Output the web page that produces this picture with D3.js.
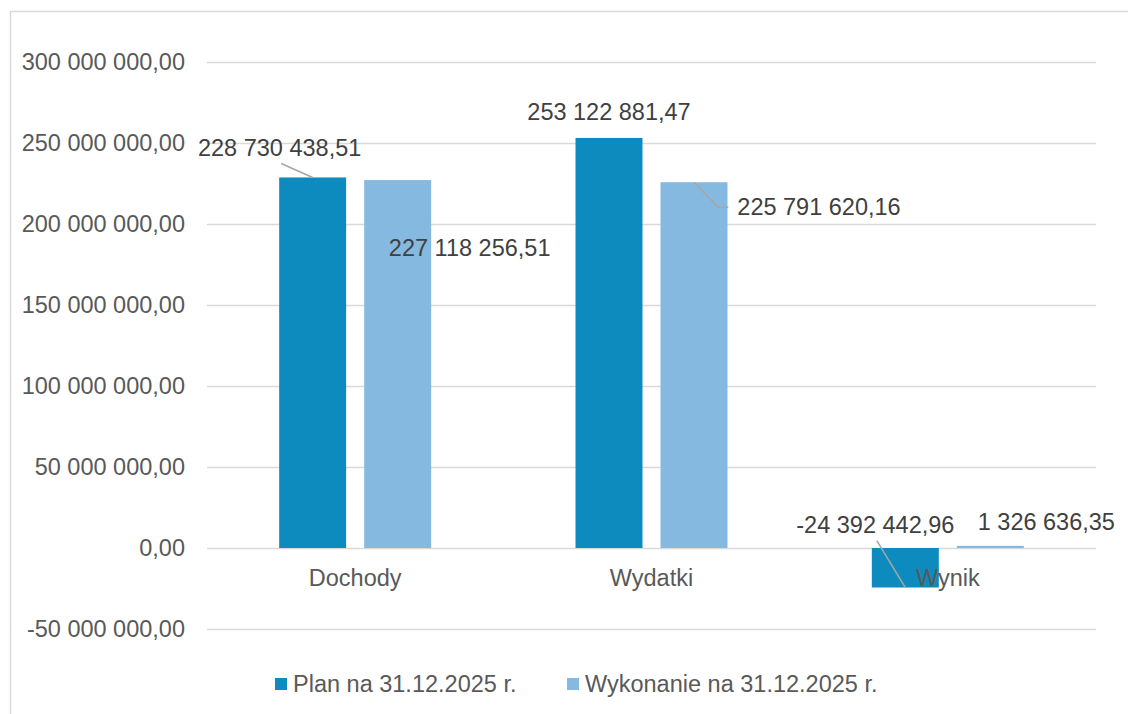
<!DOCTYPE html>
<html>
<head>
<meta charset="utf-8">
<script src="https://cdn.jsdelivr.net/npm/d3@7"></script>
<style>
  body { margin: 0; background: #fff; }
  svg { display: block; font-family: "Liberation Sans", Arial, sans-serif; }
</style>
</head>
<body>
<svg width="1128" height="714"></svg>
<script>
const categories = ['Dochody', 'Wydatki', 'Wynik'];
const seriesNames = ['Plan na 31.12.2025 r.', 'Wykonanie na 31.12.2025 r.'];
const planValues = [228730438.51, 253122881.47, -24392442.96];
const wykonanieValues = [227118256.51, 225791620.16, 1326636.35];
const yTicks = [-50000000, 0, 50000000, 100000000, 150000000, 200000000, 250000000, 300000000];

const colors = ['#0e8bbe', '#85b9e0'];

// label placement (moved by hand in the original), relative to bar end
const labelPlacement = [
  [{ dx: -33, dy: -30, leader: 'down' }, { dx: 72, dy: 68 }],
  [{ dx: 0, dy: -26 }, { dx: 125, dy: 25, leader: 'elbow' }],
  [{ dx: -30, dy: -63, leader: 'down' }, { dx: 56, dy: -24 }]
];

const svg = d3.select('svg');

const fmt = (v) => {
  const s = Math.abs(v).toFixed(2).split('.');
  const int = s[0].replace(/\B(?=(\d{3})+(?!\d))/g, ' ');
  return (v < 0 ? '-' : '') + int + ',' + s[1];
};

// chart frame (cut off at right/bottom)
svg.append('rect')
  .attr('x', 10.5).attr('y', 11.5)
  .attr('width', 1130).attr('height', 720)
  .attr('fill', 'none').attr('stroke', '#d9d9d9').attr('stroke-width', 1.5);

const plotLeft = 207, plotRight = 1096;

const yScale = d3.scaleLinear().domain([-50000000, 300000000]).range([629, 62]);
const xScale = d3.scaleBand().domain(categories).range([plotLeft, plotRight]);
const bw = xScale.bandwidth();
const xInner = d3.scaleBand().domain(seriesNames)
  .range([bw / 2 - 76, bw / 2 + 76]).paddingInner(0.212);

const g = svg.append('g');

// gridlines
const yAxis = d3.axisLeft(yScale).tickValues(yTicks)
  .tickSize(-(plotRight - plotLeft)).tickPadding(22).tickFormat(fmt);
g.append('g').attr('transform', `translate(${plotLeft},0)`).call(yAxis)
  .call((a) => a.select('.domain').remove())
  .call((a) => a.selectAll('.tick line').attr('stroke', '#d9d9d9').attr('stroke-width', 1.5))
  .call((a) => a.selectAll('.tick text').attr('fill', '#595959')
    .attr('font-size', '23.5px').attr('font-family', '"Liberation Sans", Arial, sans-serif'));

// bars
const rows = categories.map((c, i) => ({
  cat: c,
  vals: [planValues[i], wykonanieValues[i]],
  place: labelPlacement[i]
}));

const groups = g.selectAll('.grp').data(rows).enter().append('g')
  .attr('transform', (d) => `translate(${xScale(d.cat)},0)`);

groups.selectAll('rect').data((d) => d.vals.map((v, j) => ({ v, j })))
  .enter().append('rect')
  .attr('x', (d) => xInner(seriesNames[d.j]))
  .attr('width', xInner.bandwidth())
  .attr('y', (d) => yScale(Math.max(0, d.v)))
  .attr('height', (d) => Math.max(1.5, Math.abs(yScale(d.v) - yScale(0))))
  .attr('fill', (d) => colors[d.j]);

// category labels
g.selectAll('.cat').data(categories).enter().append('text')
  .attr('x', (d) => xScale(d) + bw / 2)
  .attr('y', 586)
  .attr('text-anchor', 'middle')
  .attr('font-size', '23.5px').attr('fill', '#595959')
  .text((d) => d);

// data labels + leaders
rows.forEach((row) => {
  row.vals.forEach((v, j) => {
    const p = row.place[j];
    const cx = xScale(row.cat) + xInner(seriesNames[j]) + xInner.bandwidth() / 2;
    const ey = yScale(v);
    const lx = cx + p.dx, ly = ey + p.dy;
    const label = g.append('text')
      .attr('x', lx).attr('y', ly)
      .attr('dy', '0.35em')
      .attr('text-anchor', 'middle')
      .attr('font-size', '23.5px').attr('fill', '#404040')
      .text(fmt(v));
    if (p.leader === 'down') {
      g.append('line')
        .attr('x1', lx + 1.5).attr('y1', ly + 16)
        .attr('x2', cx).attr('y2', ey)
        .attr('stroke', '#a6a6a6').attr('stroke-width', 1.5);
    } else if (p.leader === 'elbow') {
      const left = lx - label.node().getComputedTextLength() / 2;
      g.append('polyline')
        .attr('points', [[cx, ey], [left - 19, ly], [left - 9, ly]].map((q) => q.join(',')).join(' '))
        .attr('fill', 'none').attr('stroke', '#a6a6a6').attr('stroke-width', 1.5);
    }
  });
});

// legend
const legendX = [275, 567];
const legend = svg.append('g');
seriesNames.forEach((s, i) => {
  legend.append('rect')
    .attr('x', legendX[i]).attr('y', 678)
    .attr('width', 12).attr('height', 12)
    .attr('fill', colors[i]);
  legend.append('text')
    .attr('x', legendX[i] + 18).attr('y', 684)
    .attr('dy', '0.35em')
    .attr('font-size', '23.5px').attr('fill', '#595959')
    .text(s);
});
</script>
</body>
</html>
